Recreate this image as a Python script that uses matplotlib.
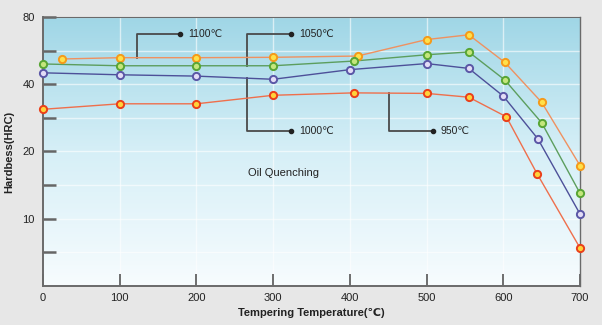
import numpy as np
import matplotlib
matplotlib.use("Agg")
import matplotlib.pyplot as plt
from matplotlib.colors import LinearSegmentedColormap
from matplotlib.ticker import FixedLocator, NullFormatter

plt.rcParams['font.family'] = ['Liberation Sans', 'DejaVu Sans']

# Hardness after tempering, one series per quenching temperature
temp_1100 = [25, 100, 200, 300, 410, 500, 555, 602, 650, 700]
hrc_1100 = [51.9, 52.6, 52.6, 52.8, 53.5, 63.4, 66.6, 50.1, 33.2, 17.3]

temp_1050 = [0, 100, 200, 300, 405, 500, 555, 602, 650, 700]
hrc_1050 = [49.3, 48.4, 48.4, 48.4, 50.8, 54.2, 55.8, 41.8, 26.9, 13.0]

temp_1000 = [0, 100, 200, 300, 400, 500, 555, 600, 645, 700]
hrc_1000 = [45.0, 44.1, 43.5, 42.1, 46.5, 49.5, 47.1, 35.4, 22.8, 10.5]

temp_950 = [0, 100, 200, 300, 405, 500, 555, 604, 644, 700]
hrc_950 = [30.9, 32.7, 32.7, 35.7, 36.6, 36.4, 35.0, 28.6, 15.9, 7.4]

x_ticks = [0, 100, 200, 300, 400, 500, 600, 700]
y_major = [10, 20, 40, 80]
y_minor = [7.07, 14.1, 28.3, 56.6]

series = [
    ("1100℃", temp_1100, hrc_1100, "#ef9160", "#f59a1a", "#ffe04a"),
    ("1050℃", temp_1050, hrc_1050, "#5c9e5e", "#58a534", "#c4e67c"),
    ("1000℃", temp_1000, hrc_1000, "#4d5099", "#5a56a6", "#e2dcf6"),
    ("950℃", temp_950, hrc_950, "#ef6f4c", "#ea3f1a", "#ffd23a"),
]

fig = plt.figure(figsize=(6.02, 3.25), dpi=100, facecolor="#e7e7e7")
ax = fig.add_axes([0.0714, 0.12, 0.8921, 0.8277])
ax.set_facecolor("none")
ax.set_yscale("log", base=2)
ax.set_xlim(0, 700)
ax.set_ylim(5, 80)

# gradient fill behind the plot
grad = np.linspace(1, 0, 256).reshape(-1, 1)
cmap = LinearSegmentedColormap.from_list("bg", ["#f7fcfe", "#d6eff7", "#9fd6e6"])
ax.imshow(grad, extent=[0, 1, 0, 1], transform=ax.transAxes, aspect="auto",
          cmap=cmap, zorder=0)

# white grid
for v in y_major + y_minor:
    ax.axhline(v, color="white", lw=1.0, alpha=0.6, zorder=1)
for t in x_ticks[1:-1]:
    ax.axvline(t, color="white", lw=1.0, alpha=0.6, zorder=1)

for name, xs, ys, lc, ec, fc in series:
    ax.plot(xs, ys, color=lc, lw=1.0, zorder=3)
    ax.plot(xs, ys, ls="none", marker="o", ms=5.2, mec=ec, mfc=fc, mew=1.4,
            zorder=4, clip_on=False)

# leader lines with labels
lead = "#4a4a4a"
y_top, y_bot = 67.1, 24.8
callouts = [
    (0, 123, y_top, 178, 189),
    (1, 266, y_top, 323, 334),
    (2, 266, y_bot, 323, 334),
    (3, 451, y_bot, 508, 518),
]
for idx, xv, yend, xdot, xtxt in callouts:
    name, xs, ys = series[idx][0], series[idx][1], series[idx][2]
    ystart = 2 ** np.interp(xv, xs, np.log2(ys))
    ax.plot([xv, xv, xdot], [ystart, yend, yend], color=lead, lw=1.3, zorder=2)
    ax.plot([xdot], [yend], marker="o", ms=3, color="#222222", zorder=2)
    ax.text(xtxt, yend, name, fontsize=7.5, va="center", ha="left", color="#222222")

ax.text(313, 16.1, "Oil Quenching", fontsize=8, ha="center", va="center", color="#222222")

# axes styling
for side in ["left", "bottom", "top", "right"]:
    ax.spines[side].set_color("#6a6a6a")
    ax.spines[side].set_linewidth(1.4)
ax.spines["top"].set_linewidth(0.8)
ax.spines["right"].set_linewidth(1.0)

ax.xaxis.set_major_locator(FixedLocator(x_ticks))
ax.set_xticklabels([str(t) for t in x_ticks])
ax.yaxis.set_major_locator(FixedLocator(y_major))
ax.yaxis.set_minor_locator(FixedLocator(y_minor))
ax.set_yticklabels([str(v) for v in y_major])
ax.yaxis.set_minor_formatter(NullFormatter())
ax.tick_params(axis="x", direction="in", length=9, width=1.2, color="#555555",
               labelsize=8, pad=5, labelcolor="#222222")
ax.tick_params(axis="y", which="both", direction="in", length=9, width=1.8,
               color="#666666", labelsize=8, pad=6, labelcolor="#222222")

ax.set_xlabel("Tempering Temperature(℃)", fontsize=8, fontweight="bold",
              color="#222222", labelpad=4)
ax.set_ylabel("Hardbess(HRC)", fontsize=8, fontweight="bold", color="#222222",
              labelpad=6)

fig.savefig("out.png", dpi=100, facecolor=fig.get_facecolor())
